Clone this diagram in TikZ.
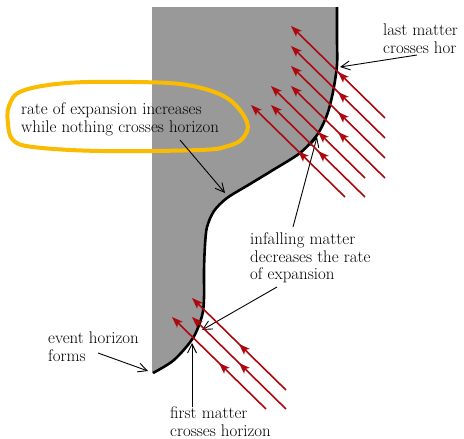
\documentclass[tikz,border=0pt]{standalone}
\usetikzlibrary{arrows.meta,decorations.markings}
\definecolor{hgray}{RGB}{153,153,153}
\definecolor{gold}{RGB}{250,188,0}
\definecolor{darkred}{RGB}{172,8,14}
\tikzset{
  lbl/.style={font=\fontsize{16.9}{17.8}\selectfont, align=left, inner sep=0pt, anchor=west},
  pointer/.style={line width=0.9pt, -{Straight Barb[length=9pt,width=9pt]}},
  infall/.style={draw=darkred, line width=1.6pt,
    -{Stealth[length=11pt,width=8pt,inset=2.5pt]},
    decoration={markings, mark=at position 0.5 with {\arrow[darkred]{Stealth[length=11pt,width=8pt,inset=2.5pt]}}},
    postaction={decorate}},
  horizon/.style={line width=2.6pt, line join=round},
  blob/.style={draw=gold, line width=4pt},
}
\begin{document}
\begin{tikzpicture}[x=1pt,y=-1pt]
\useasboundingbox (0,0) rectangle (464,439);
% black hole interior
\fill[hgray] (152,7) -- (337,7) -- plot[smooth,tension=0.5] coordinates {(337,7) (337,40) (337,65) (333,92) (327,115) (317,135) (300,153) (273,170) (250,184) (227,198) (214,211) (207,227) (205,245) (204,270) (204,298) (202,316) (193,338) (174,360) (153,373)} -- (152,373) -- cycle;
\draw[horizon] plot[smooth,tension=0.5] coordinates {(337,7) (337,40) (337,65) (333,92) (327,115) (317,135) (300,153) (273,170) (250,184) (227,198) (214,211) (207,227) (205,245) (204,270) (204,298) (202,316) (193,338) (174,360) (153,373)};
% highlight
\draw[blob] plot[smooth cycle,tension=0.6] coordinates {(9,106) (22,91) (67,83) (133,82) (187,85) (227,98) (247,122) (243,138) (228,146) (200,150) (100,151) (33,147) (13,140) (8,124)};
% labels
\node[lbl] (etext) at (21,119) {rate of expansion increases\\while nothing crosses horizon};
\node[lbl] (lm) at (383,39) {last matter\\crosses hor};
\node[lbl, font=\fontsize{16.9}{17.5}\selectfont] (inf) at (250,258) {infalling matter\\decreases the rate\\of expansion};
\node[lbl] (ev) at (48,347) {event horizon\\forms};
\node[lbl] (fm) at (170,422) {first matter\\crosses horizon};
% pointer ends
\coordinate (a1s) at (180,140); \coordinate (a1e) at (225,193);
\coordinate (a2s) at (417,55);  \coordinate (a2e) at (340,67);
\coordinate (a3s) at (293,227); \coordinate (a3e) at (317,137);
\coordinate (a4s) at (277,287); \coordinate (a4e) at (202,330);
\coordinate (a5s) at (98,353);  \coordinate (a5e) at (148,371);
\coordinate (a6s) at (192,407); \coordinate (a6e) at (192,343);
\draw[pointer] (a1s) -- (a1e);
\draw[pointer] (a2s) -- (a2e);
\draw[pointer] (a3s) -- (a3e);
\draw[pointer] (a4s) -- (a4e);
\draw[pointer] (a5s) -- (a5e);
\draw[pointer] (a6s) -- (a6e);
% infalling matter
\foreach \x/\y in {385/118, 385/138, 385/158, 385/178, 365/178, 365/197, 345/197, 286/390, 286/409, 266/409}
  \draw[infall] (\x,\y) -- ++(-94,-92);
\end{tikzpicture}
\end{document}
